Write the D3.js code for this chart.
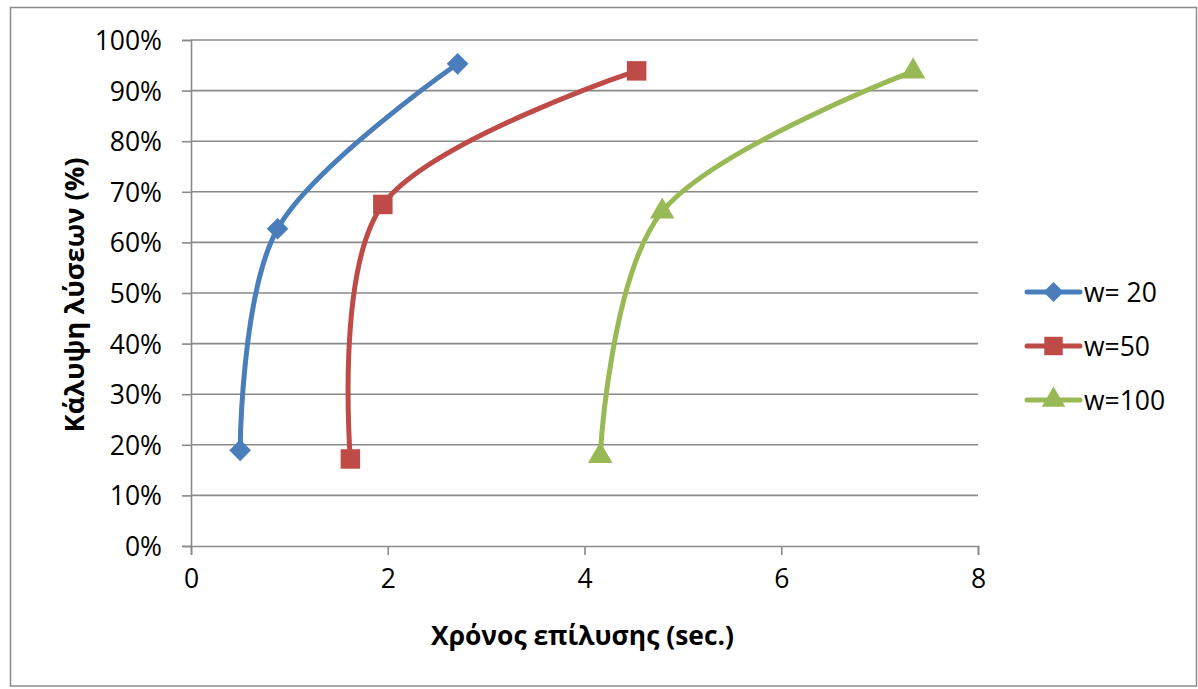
<!DOCTYPE html>
<html>
<head>
<meta charset="utf-8">
<script src="https://cdn.jsdelivr.net/npm/d3@7"></script>
<style>
  html, body { margin: 0; padding: 0; background: #fff; }
  svg { display: block; }
  text { font-family: "Open Sans", "Noto Sans", sans-serif; fill: #000; }
</style>
</head>
<body>
<svg id="chart" width="1198" height="689"></svg>
<script>
// Solve time (sec.) vs. solution coverage for three window sizes
const seriesNames = ["w= 20", "w=50", "w=100"];
const timeW20 = [0.50, 0.88, 2.71];
const coverW20 = [0.189, 0.627, 0.953];
const timeW50 = [1.62, 1.95, 4.53];
const coverW50 = [0.172, 0.675, 0.939];
const timeW100 = [4.16, 4.79, 7.34];
const coverW100 = [0.178, 0.661, 0.938];
const xTicks = [0, 2, 4, 6, 8];
const yTicks = [0, 0.1, 0.2, 0.3, 0.4, 0.5, 0.6, 0.7, 0.8, 0.9, 1.0];
const xTitle = "Χρόνος επίλυσης (sec.)";
const yTitle = "Κάλυψη λύσεων (%)";

const colors = ["#4a7ebb", "#be4b48", "#98b954"];
const symbols = [d3.symbolDiamond2, d3.symbolSquare, d3.symbolTriangle];

const series = [
  { name: seriesNames[0], xs: timeW20, ys: coverW20 },
  { name: seriesNames[1], xs: timeW50, ys: coverW50 },
  { name: seriesNames[2], xs: timeW100, ys: coverW100 }
];

const svg = d3.select("#chart");

// outer chart frame
svg.append("rect")
  .attr("x", 10.5).attr("y", 7.5)
  .attr("width", 1186).attr("height", 678.5)
  .attr("fill", "#fff").attr("stroke", "#8c8c8c").attr("stroke-width", 1.5);

const plot = { left: 191, right: 978, top: 40, bottom: 546 };

const x = d3.scaleLinear().domain([0, 8]).range([plot.left, plot.right]);
const y = d3.scaleLinear().domain([0, 1]).range([plot.bottom, plot.top]);

const gridColor = "#8a8a8a";

// horizontal gridlines
svg.append("g")
  .selectAll("line")
  .data(yTicks.filter(d => d > 0))
  .join("line")
  .attr("x1", plot.left).attr("x2", plot.right)
  .attr("y1", d => y(d)).attr("y2", d => y(d))
  .attr("stroke", gridColor).attr("stroke-width", 1.6);

// y axis
const yAxis = svg.append("g")
  .attr("transform", `translate(${plot.left},0)`)
  .call(d3.axisLeft(y).tickValues(yTicks).tickFormat(d3.format(".0%")).tickSize(9).tickPadding(20));
yAxis.select(".domain").attr("stroke", gridColor).attr("stroke-width", 1.6);
yAxis.selectAll(".tick line").attr("stroke", gridColor).attr("stroke-width", 1.6);
yAxis.selectAll(".tick text")
  .attr("font-size", 26.5)
  .attr("font-family", "'Open Sans', 'Noto Sans', sans-serif")
  .attr("fill", "#000")
  .attr("dy", "0.36em");

// x axis
const xAxis = svg.append("g")
  .attr("transform", `translate(0,${plot.bottom})`)
  .call(d3.axisBottom(x).tickValues(xTicks).tickFormat(d3.format("d")).tickSize(9).tickPadding(14));
xAxis.select(".domain").attr("stroke", gridColor).attr("stroke-width", 1.6);
xAxis.selectAll(".tick line").attr("stroke", gridColor).attr("stroke-width", 1.6);
xAxis.selectAll(".tick text")
  .attr("font-size", 26.5)
  .attr("font-family", "'Open Sans', 'Noto Sans', sans-serif")
  .attr("fill", "#000");

// smoothed series lines and markers
const line = d3.line()
  .x(d => x(d[0]))
  .y(d => y(d[1]))
  .curve(d3.curveCatmullRom.alpha(0));

series.forEach((s, i) => {
  const pts = s.xs.map((v, k) => [v, s.ys[k]]);
  svg.append("path")
    .datum(pts)
    .attr("d", line)
    .attr("fill", "none")
    .attr("stroke", colors[i])
    .attr("stroke-width", 5)
    .attr("stroke-linecap", "round")
    .attr("stroke-linejoin", "round");
  const sizes = [300, 380, 260];
  svg.append("g")
    .selectAll("path")
    .data(pts)
    .join("path")
    .attr("transform", d => `translate(${x(d[0])},${y(d[1])})`)
    .attr("d", d3.symbol().type(symbols[i]).size(sizes[i]))
    .attr("fill", colors[i]);
});

// legend
const legendY = [292, 346, 400];
series.forEach((s, i) => {
  const g = svg.append("g").attr("transform", `translate(1027,${legendY[i]})`);
  g.append("line")
    .attr("x1", 0).attr("x2", 53).attr("y1", 0).attr("y2", 0)
    .attr("stroke", colors[i]).attr("stroke-width", 5).attr("stroke-linecap", "round");
  g.append("path")
    .attr("transform", "translate(26.5,0)")
    .attr("d", d3.symbol().type(symbols[i]).size([260, 340, 240][i]))
    .attr("fill", colors[i]);
  g.append("text")
    .attr("x", 57).attr("y", 0).attr("dy", "0.36em")
    .attr("font-size", 26.5)
    .text(s.name);
});

// axis titles, scaled to their target lengths
function fitText(sel, target) {
  const len = sel.node().getComputedTextLength();
  const fs = parseFloat(sel.attr("font-size"));
  sel.attr("font-size", fs * target / len);
}

const xt = svg.append("text")
  .attr("x", (plot.left + plot.right) / 2 - 2)
  .attr("y", 645)
  .attr("text-anchor", "middle")
  .attr("font-weight", "bold")
  .attr("font-size", 25)
  .text(xTitle);
fitText(xt, 303);

const yt = svg.append("text")
  .attr("transform", "translate(84,295) rotate(-90)")
  .attr("text-anchor", "middle")
  .attr("font-weight", "bold")
  .attr("font-size", 25)
  .text(yTitle);
fitText(yt, 275);
</script>
</body>
</html>
